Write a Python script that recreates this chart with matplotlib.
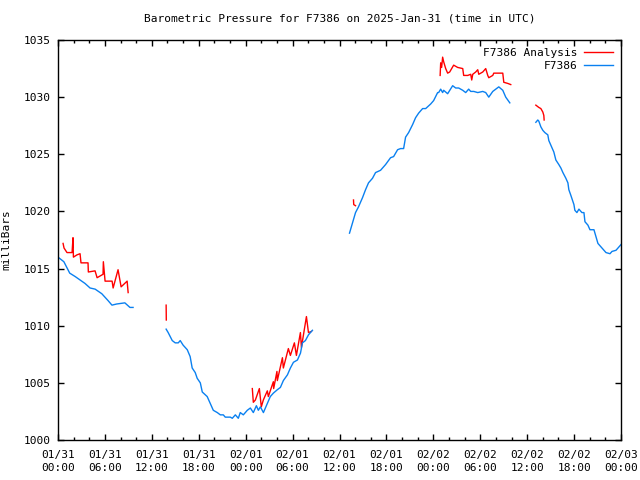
import numpy as np
import matplotlib
matplotlib.use("Agg")
import matplotlib.pyplot as plt
import matplotlib.dates as mdates
from datetime import datetime, timedelta

# hours since 2025-01-31 00:00 UTC; NaN breaks the line where data are missing
nan = float("nan")

obs_hours = [
    0.0, 0.75, 1.5, 2.2, 3.45, 4.1, 4.75, 5.6, 6.4, 6.9, 7.5, 8.55, 9.2, 9.6, nan,
    13.83, 14.09, 14.61, 14.99, 15.38, 15.63, 16.0, 16.53, 16.9, 17.16, 17.55, 17.8,
    18.2, 18.45, 19.08, 19.47, 19.86, 20.37, 20.76, 21.14, 21.39, 22.04, 22.29,
    22.68, 23.06, 23.31, 23.7, 24.21, 24.6, 24.98, 25.37, 25.62, 25.88, 26.27,
    26.78, 27.15, 27.54, 28.05, 28.44, 28.82, 29.34, 29.72, 30.11, 30.62, 31.01,
    31.26, 31.64, 32.03, 32.54, nan,
    37.28, 37.66, 38.05, 38.43, 38.94, 39.33, 39.71, 40.22, 40.61, 41.25, 41.89,
    42.53, 42.92, 43.43, 43.81, 44.2, 44.45, 44.84, 45.35, 45.73, 46.12, 46.63,
    47.02, 47.66, 48.04, 48.55, 48.68, 48.94, 49.19, 49.32, 49.83, 50.47, 50.86,
    51.24, 51.76, 52.14, 52.52, 52.78, 53.17, 53.68, 54.32, 54.7, 55.09, 55.6,
    55.99, 56.37, 56.88, 57.26, 57.78, nan,
    61.11, 61.36, 61.49, 61.75, 62.0, 62.26, 62.64, 62.77, 63.03, 63.41, 63.67,
    64.05, 64.31, 64.57, 64.95, 65.21, 65.33, 65.59, 65.98, 66.1, 66.36, 66.62,
    67.0, 67.26, 67.39, 67.77, 68.03, 68.54, 68.8, 69.05, 69.56, 70.08, 70.59,
    70.85, 71.36, 71.74, 72.0,
]
obs_mb = [
    1016.0, 1015.6, 1014.6, 1014.3, 1013.7, 1013.3, 1013.2, 1012.8, 1012.2, 1011.8,
    1011.9, 1012.0, 1011.6, 1011.6, nan,
    1009.7, 1009.4, 1008.7, 1008.5, 1008.5, 1008.7, 1008.3, 1007.9, 1007.3, 1006.3,
    1005.9, 1005.4, 1005.0, 1004.2, 1003.8, 1003.2, 1002.6, 1002.4, 1002.2, 1002.2,
    1002.0, 1002.0, 1001.9, 1002.2, 1001.9, 1002.4, 1002.2, 1002.6, 1002.8, 1002.4,
    1003.0, 1002.6, 1002.9, 1002.4, 1003.2, 1003.8, 1004.1, 1004.4, 1004.6, 1005.2,
    1005.7, 1006.3, 1006.8, 1007.0, 1007.6, 1008.5, 1008.7, 1009.2, 1009.6, nan,
    1018.1, 1019.0, 1019.9, 1020.4, 1021.2, 1021.9, 1022.5, 1022.9, 1023.4, 1023.6,
    1024.1, 1024.7, 1024.8, 1025.4, 1025.5, 1025.5, 1026.5, 1026.9, 1027.6, 1028.2,
    1028.6, 1029.0, 1029.0, 1029.4, 1029.7, 1030.4, 1030.4, 1030.7, 1030.4, 1030.6,
    1030.3, 1031.0, 1030.8, 1030.8, 1030.6, 1030.4, 1030.7, 1030.5, 1030.5, 1030.4,
    1030.5, 1030.4, 1030.0, 1030.5, 1030.7, 1030.9, 1030.6, 1030.0, 1029.5, nan,
    1027.8, 1028.0, 1027.9, 1027.4, 1027.1, 1026.9, 1026.7, 1026.2, 1025.8, 1025.2,
    1024.5, 1024.1, 1023.8, 1023.4, 1022.9, 1022.5, 1021.9, 1021.4, 1020.6, 1020.1,
    1019.9, 1020.2, 1019.9, 1019.9, 1019.1, 1018.8, 1018.4, 1018.4, 1017.8, 1017.2,
    1016.8, 1016.4, 1016.3, 1016.5, 1016.6, 1016.9, 1017.1,
]

ana_hours = [
    0.65, 0.77, 1.15, 1.8, 1.92, 1.97, 2.43, 2.82, 2.94, 3.84, 3.88, 4.74, 5.0,
    5.76, 5.8, 6.02, 6.92, 7.05, 7.68, 8.07, 8.84, 8.97, nan,
    13.83, 13.85, nan,
    24.85, 24.98, 25.24, 25.75, 26.0, 26.26, 26.77, 26.9, 27.54, 27.58, 28.0, 28.05,
    28.7, 28.82, 29.46, 29.72, 30.23, 30.49, 31.0, 31.13, 31.77, 32.03, 32.41, nan,
    37.79, 37.82, 38.05, nan,
    48.87, 48.94, 49.06, 49.19, 49.32, 49.58, 49.83, 50.09, 50.6, 51.11, 51.76,
    51.88, 52.4, 52.78, 52.91, 53.04, 53.42, 53.68, 53.81, 54.32, 54.7, 54.96,
    55.09, 55.6, 55.73, 56.37, 56.88, 57.01, 57.52, 57.9, nan,
    61.11, 61.49, 61.75, 62.0, 62.13, 62.17,
]
ana_mb = [
    1017.2, 1016.8, 1016.4, 1016.4, 1017.7, 1016.0, 1016.2, 1016.3, 1015.5, 1015.5,
    1014.7, 1014.8, 1014.2, 1014.5, 1015.6, 1013.9, 1013.9, 1013.3, 1014.9, 1013.4,
    1013.9, 1012.9, nan,
    1011.8, 1010.5, nan,
    1004.5, 1003.3, 1003.5, 1004.5, 1002.9, 1003.5, 1004.3, 1003.8, 1005.1, 1004.5,
    1006.0, 1005.2, 1007.2, 1006.3, 1008.0, 1007.4, 1008.5, 1007.4, 1009.4, 1008.1,
    1010.8, 1009.4, 1009.5, nan,
    1021.0, 1020.6, 1020.5, nan,
    1031.9, 1033.0, 1032.6, 1033.5, 1033.1, 1032.5, 1032.1, 1032.2, 1032.8, 1032.6,
    1032.5, 1031.9, 1031.9, 1032.0, 1031.5, 1032.0, 1032.2, 1032.4, 1032.0, 1032.2,
    1032.5, 1031.9, 1031.7, 1031.9, 1032.1, 1032.1, 1032.1, 1031.3, 1031.2, 1031.1, nan,
    1029.3, 1029.1, 1029.0, 1028.7, 1028.4, 1028.0,
]

title = "Barometric Pressure for F7386 on 2025-Jan-31 (time in UTC)"
ylabel = "milliBars"
ana_label = "F7386 Analysis"
obs_label = "F7386"

start = datetime(2025, 1, 31, 0, 0)

def to_times(hours):
    out = []
    for h in hours:
        if np.isnan(h):
            out.append(np.datetime64("NaT"))
        else:
            out.append(np.datetime64(start + timedelta(hours=h)))
    return np.array(out, dtype="datetime64[ms]")

plt.rcParams["font.family"] = ["DejaVu Sans Mono"]
plt.rcParams["font.size"] = 8

fig = plt.figure(figsize=(6.4, 4.8), dpi=100)
ax = fig.add_axes([58 / 640, 1 - 440 / 480, (621 - 58) / 640, 400 / 480])

ax.plot(to_times(ana_hours), np.array(ana_mb), color="#ff0000", lw=1.0, label=ana_label)
ax.plot(to_times(obs_hours), np.array(obs_mb), color="#0a80f0", lw=1.0, label=obs_label)

ax.set_xlim(np.datetime64(start), np.datetime64(start + timedelta(hours=72)))
ax.set_ylim(1000, 1035)
ax.set_yticks(np.arange(1000, 1036, 5))
ax.xaxis.set_major_locator(mdates.HourLocator(byhour=[0, 6, 12, 18]))
ax.xaxis.set_minor_locator(mdates.HourLocator(byhour=range(0, 24, 2)))
ax.xaxis.set_major_formatter(mdates.DateFormatter("%m/%d\n%H:%M"))

ax.tick_params(which="major", direction="in", length=4, width=1, top=True, right=True, pad=7)
ax.tick_params(which="minor", direction="in", length=2, width=1, top=True, right=False)
ax.tick_params(axis="y", which="major", pad=5)
for lbl in ax.get_xticklabels():
    lbl.set_linespacing(1.35)
for s in ax.spines.values():
    s.set_linewidth(1.0)
    s.set_color("black")

ax.set_title(title, fontsize=8, pad=13)
ax.set_ylabel(ylabel, fontsize=8, labelpad=9)

leg = ax.legend(loc="upper right", frameon=False, markerfirst=False, fontsize=8,
                handlelength=2.6, borderaxespad=0.5, labelspacing=0.3, handletextpad=0.6,
                borderpad=0.2)
for t in leg.get_texts():
    t.set_ha("right")

fig.savefig("out.png", dpi=100)
